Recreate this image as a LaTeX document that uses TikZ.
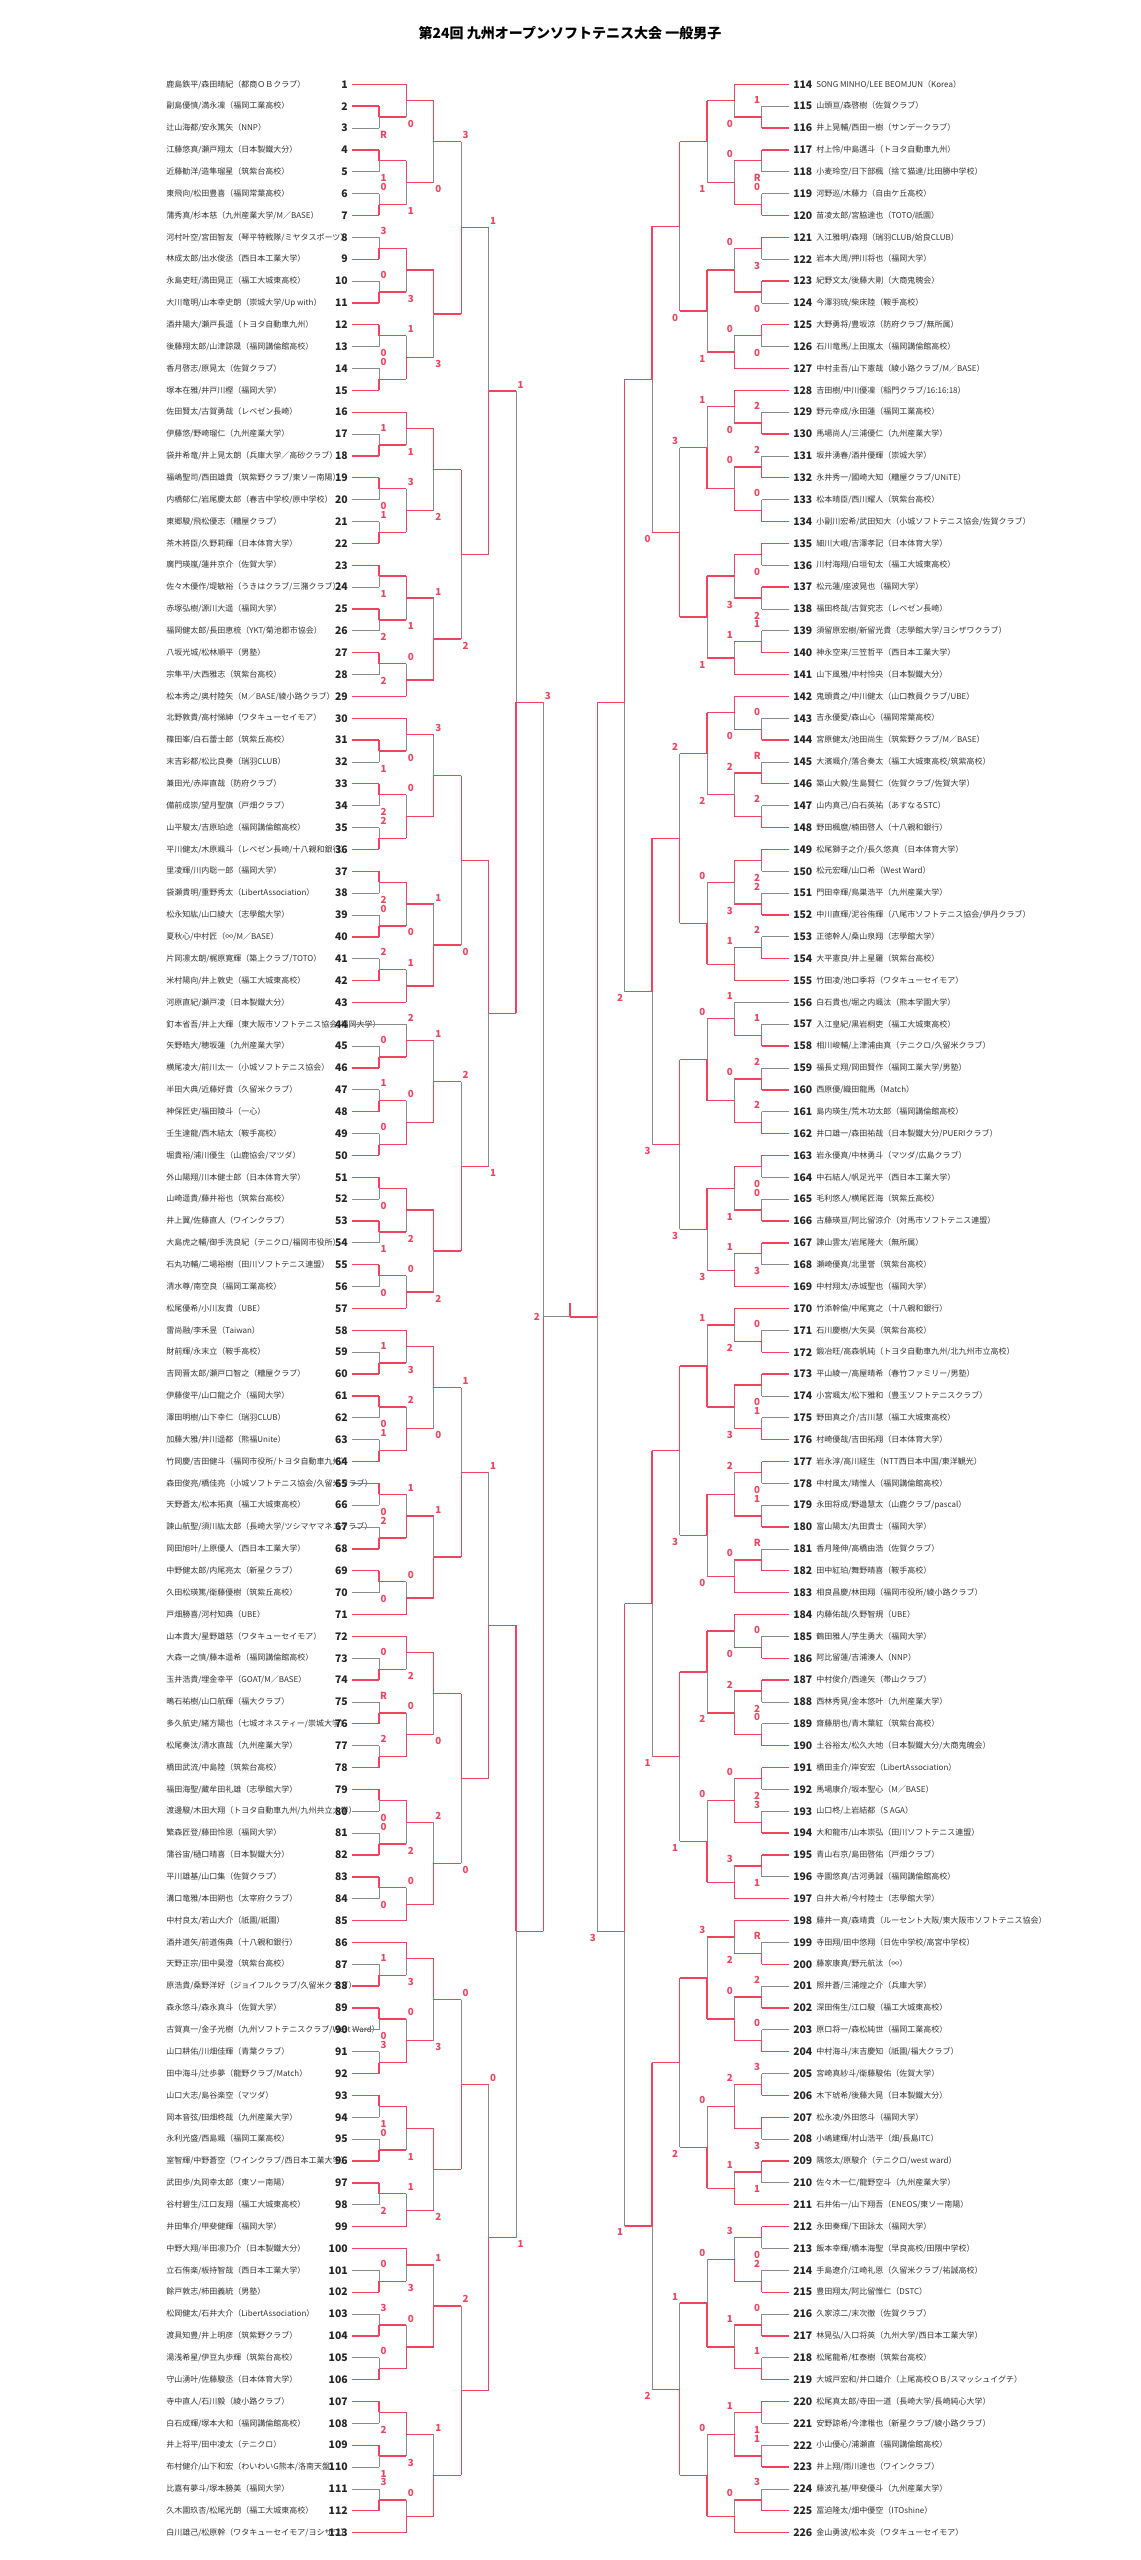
\documentclass[tikz,border=0pt]{standalone}
\usepackage{fontspec}
\setmainfont{Noto Sans CJK JP}
\usetikzlibrary{positioning}

\definecolor{winred}{HTML}{F0445E}
\definecolor{losegray}{HTML}{8A8A8A}
\definecolor{nametext}{HTML}{333333}

\tikzset{
  win/.style={draw=winred, line width=1pt},
  lose/.style={draw=losegray, line width=0.6pt},
  entryname/.style={font=\fontsize{6}{7}\selectfont, text=nametext, inner sep=0pt},
  entrynum/.style={font=\fontsize{7.8}{8}\selectfont\bfseries, text=black!85, inner sep=0pt},
  scorelab/.style={font=\fontsize{7.3}{8}\selectfont\bfseries, text=winred, inner sep=0pt},
  yfix/.code={\def\bkyfix{#1}},
}

% y positions of entries and games
\newcommand\setpos[2]{\expandafter\xdef\csname ypos-#1\endcsname{#2}}
\newcommand\getpos[1]{\csname ypos-#1\endcsname}

% left and right entries
\newcommand\lent[2]{%
  \pgfmathsetmacro\bkyy{84.3+(#1-1)*21.86}%
  \setpos{e#1}{\bkyy}\expandafter\gdef\csname kind-e#1\endcsname{E}%
  \node[entryname, anchor=west] (t#1) at (166,\bkyy) {#2};
  \node[entrynum, anchor=east] (n#1) at (348,\bkyy) {#1};
}
\newcommand\rent[2]{%
  \pgfmathsetmacro\bkyy{84.3+(#1-114)*21.86}%
  \setpos{e#1}{\bkyy}\expandafter\gdef\csname kind-e#1\endcsname{E}%
  \node[entrynum, anchor=west] (n#1) at (793,\bkyy) {#1};
  \node[entryname, anchor=west] (t#1) at (816,\bkyy) {#2};
}
\newcommand\sideL{\def\xstart{379}\def\xdir{1}\def\xline{352}}
\newcommand\sideR{\def\xstart{761.7}\def\xdir{-1}\def\xline{789}}

% game: [options] name, top, bottom, round, winner (t/b), loser's score
\newcommand\game[7][]{%
  \let\bkyfix\relax
  \tikzset{gameout/.style={win},#1}%
  \pgfmathsetmacro\bkyt{\getpos{#3}}%
  \pgfmathsetmacro\bkyb{\getpos{#4}}%
  \ifx\bkyfix\relax\pgfmathsetmacro\bkym{(\bkyt+\bkyb)/2}\else\pgfmathsetmacro\bkym{\bkyfix}\fi
  \setpos{#2}{\bkym}%
  \pgfmathsetmacro\bkxv{\xstart+\xdir*27.4*(#5-1)}%
  \pgfmathsetmacro\bkxn{\bkxv+\xdir*27.4}%
  \pgfmathsetmacro\bkxl{\bkxv+\xdir*4.5}%
  \if#6t\tikzset{tside/.style={win},bside/.style={lose}}\pgfmathsetmacro\bkyl{\bkyb+6.5}%
  \else\tikzset{tside/.style={lose},bside/.style={win}}\pgfmathsetmacro\bkyl{\bkyt-6.5}\fi
  \ifcsname kind-#3\endcsname\draw[tside] (\xline,\bkyt) -- (\bkxv,\bkyt);\fi
  \ifcsname kind-#4\endcsname\draw[bside] (\xline,\bkyb) -- (\bkxv,\bkyb);\fi
  \draw[tside] (\bkxv,\bkyt) -- (\bkxv,\bkym);
  \draw[bside] (\bkxv,\bkym) -- (\bkxv,\bkyb);
  \draw[gameout] (\bkxv,\bkym) -- (\bkxn,\bkym);
  \node[scorelab] (s#2) at (\bkxl,\bkyl) {#7};
}

\begin{document}
\begin{tikzpicture}[x=0.75pt, y=-0.75pt]
\useasboundingbox (0,0) rectangle (1140,2560);
\fill[white] (0,0) rectangle (1140,2560);

\node[font=\fontsize{10.5}{12}\selectfont\bfseries] (title) at (570,33) {第24回 九州オープンソフトテニス大会 一般男子};

% left half
\lent{1}{鹿島鉄平/森田晴紀（都商ＯＢクラブ）}
\lent{2}{副島優慎/満永凜（福岡工業高校）}
\lent{3}{辻山海都/安永篤矢（NNP）}
\lent{4}{江藤悠真/瀬戸翔太（日本製鐵大分）}
\lent{5}{近藤勧洋/造隼瑠星（筑紫台高校）}
\lent{6}{東飛向/松田豊喜（福岡常葉高校）}
\lent{7}{蒲秀真/杉本慈（九州産業大学/M／BASE）}
\lent{8}{河村叶空/宮田智友（琴平特戦隊/ミヤタスポーツ）}
\lent{9}{林成太郎/出水俊丞（西日本工業大学）}
\lent{10}{永島吏旺/満田晃正（福工大城東高校）}
\lent{11}{大川竜明/山本幸史朗（崇城大学/Up with）}
\lent{12}{酒井陽大/瀬戸長遥（トヨタ自動車九州）}
\lent{13}{後藤翔太郎/山津諒晟（福岡講倫館高校）}
\lent{14}{香月啓志/原晃太（佐賀クラブ）}
\lent{15}{塚本在雅/井戸川樫（福岡大学）}
\lent{16}{佐田賢太/古賀勇哉（レベゼン長崎）}
\lent{17}{伊藤悠/野崎瑠仁（九州産業大学）}
\lent{18}{袋井希竜/井上晃太朗（兵庫大学／高砂クラブ）}
\lent{19}{福嶋聖司/西田雄貴（筑紫野クラブ/東ソー南陽）}
\lent{20}{内橋郁仁/岩尾慶太郎（春吉中学校/原中学校）}
\lent{21}{東郷駿/飛松優志（糟屋クラブ）}
\lent{22}{茶木將臣/久野莉輝（日本体育大学）}
\lent{23}{廣門瑛嵐/蓮井京介（佐賀大学）}
\lent{24}{佐々木優作/堤敏裕（うきはクラブ/三潴クラブ）}
\lent{25}{赤塚弘樹/源川大遥（福岡大学）}
\lent{26}{福岡健太郎/長田恵梳（YKT/菊池郡市協会）}
\lent{27}{八坂光城/松林順平（男塾）}
\lent{28}{宗隼平/大西雅志（筑紫台高校）}
\lent{29}{松本秀之/奥村陸矢（M／BASE/綾小路クラブ）}
\lent{30}{北野敦貴/高村悌紳（ワタキューセイモア）}
\lent{31}{篠田峯/白石蕾士郎（筑紫丘高校）}
\lent{32}{末吉彩都/松比良奏（瑞羽CLUB）}
\lent{33}{兼田光/赤岸直哉（防府クラブ）}
\lent{34}{備前成崇/望月聖旗（戸畑クラブ）}
\lent{35}{山平駿太/吉原珀途（福岡講倫館高校）}
\lent{36}{平川健太/木原颯斗（レベゼン長崎/十八親和銀行）}
\lent{37}{里凌輝/川内聡一郎（福岡大学）}
\lent{38}{袋瀬貴明/重野秀太（LibertAssociation）}
\lent{39}{松永知紘/山口綾大（志學館大学）}
\lent{40}{夏秋心/中村匠（∞/M／BASE）}
\lent{41}{片岡凛太朗/梶原寛輝（築上クラブ/TOTO）}
\lent{42}{米村陽向/井上敦史（福工大城東高校）}
\lent{43}{河原直紀/瀬戸凌（日本製鐵大分）}
\lent{44}{釘本省吾/井上大輝（東大阪市ソフトテニス協会/福岡大学）}
\lent{45}{矢野皓大/穂坂蓮（九州産業大学）}
\lent{46}{横尾凌大/前川太一（小城ソフトテニス協会）}
\lent{47}{半田大典/近藤好貴（久留米クラブ）}
\lent{48}{神保匠史/福田陵斗（一心）}
\lent{49}{壬生達龍/西木結太（鞍手高校）}
\lent{50}{堀貴裕/浦川優生（山鹿協会/マツダ）}
\lent{51}{外山陽翔/川本健士郎（日本体育大学）}
\lent{52}{山崎遥貴/藤井裕也（筑紫台高校）}
\lent{53}{井上翼/佐藤直人（ワインクラブ）}
\lent{54}{大島虎之輔/御手洗良紀（テニクロ/福岡市役所）}
\lent{55}{石丸功輔/二場裕樹（田川ソフトテニス連盟）}
\lent{56}{清水尊/南空良（福岡工業高校）}
\lent{57}{松尾優希/小川友貴（UBE）}
\lent{58}{雷尚融/李禾昱（Taiwan）}
\lent{59}{財前輝/永末立（鞍手高校）}
\lent{60}{吉岡晋太郎/瀬戸口智之（糟屋クラブ）}
\lent{61}{伊藤俊平/山口龍之介（福岡大学）}
\lent{62}{澤田明樹/山下幸仁（瑞羽CLUB）}
\lent{63}{加藤大雅/井川遥都（熊福Unite）}
\lent{64}{竹岡慶/吉田健斗（福岡市役所/トヨタ自動車九州）}
\lent{65}{森田俊亮/橋佳亮（小城ソフトテニス協会/久留米クラブ）}
\lent{66}{天野蒼太/松本拓真（福工大城東高校）}
\lent{67}{諫山航聖/須川紘太郎（長崎大学/ツシマヤマネコクラブ）}
\lent{68}{岡田旭叶/上原優人（西日本工業大学）}
\lent{69}{中野健太郎/内尾亮太（新星クラブ）}
\lent{70}{久田松瑛篤/衛藤優樹（筑紫丘高校）}
\lent{71}{戸畑勝喜/河村知典（UBE）}
\lent{72}{山本貴大/星野雄慈（ワタキューセイモア）}
\lent{73}{大森一之慎/藤本遥希（福岡講倫館高校）}
\lent{74}{玉井浩貴/埋金幸平（GOAT/M／BASE）}
\lent{75}{鴫石祐樹/山口航輝（福大クラブ）}
\lent{76}{多久航史/緒方陽也（七城オネスティー/崇城大学）}
\lent{77}{松尾奏汰/清水直哉（九州産業大学）}
\lent{78}{橋田武流/中島陸（筑紫台高校）}
\lent{79}{福田海聖/藏牟田礼雄（志學館大学）}
\lent{80}{渡邊駿/木田大翔（トヨタ自動車九州/九州共立大学）}
\lent{81}{繁森匠登/藤田怜恩（福岡大学）}
\lent{82}{蒲谷宙/樋口晴喜（日本製鐵大分）}
\lent{83}{平川雄基/山口集（佐賀クラブ）}
\lent{84}{溝口竜雅/本田朔也（太宰府クラブ）}
\lent{85}{中村良太/若山大介（祇園/祇園）}
\lent{86}{酒井道矢/前道侑典（十八親和銀行）}
\lent{87}{天野正宗/田中昊澄（筑紫台高校）}
\lent{88}{原浩貴/桑野洋好（ジョイフルクラブ/久留米クラブ）}
\lent{89}{森永悠斗/森永真斗（佐賀大学）}
\lent{90}{古賀真一/金子光樹（九州ソフトテニスクラブ/West Ward）}
\lent{91}{山口耕佑/川畑佳輝（青葉クラブ）}
\lent{92}{田中海斗/辻歩夢（龍野クラブ/Match）}
\lent{93}{山口大志/島谷楽空（マツダ）}
\lent{94}{岡本音弦/田畑柊哉（九州産業大学）}
\lent{95}{永利光盛/西島颯（福岡工業高校）}
\lent{96}{室智輝/中野蒼空（ワインクラブ/西日本工業大学）}
\lent{97}{武田歩/丸岡幸太郎（東ソー南陽）}
\lent{98}{谷村碧生/江口友翔（福工大城東高校）}
\lent{99}{井田隼介/甲斐健輝（福岡大学）}
\lent{100}{中野大翔/半田凛乃介（日本製鐵大分）}
\lent{101}{立石侑楽/板持智哉（西日本工業大学）}
\lent{102}{餘戸敦志/柿田義統（男塾）}
\lent{103}{松岡健太/石井大介（LibertAssociation）}
\lent{104}{渡具知豊/井上明彦（筑紫野クラブ）}
\lent{105}{湯浅希星/伊豆丸歩輝（筑紫台高校）}
\lent{106}{守山湧叶/佐藤駿丞（日本体育大学）}
\lent{107}{寺中直人/石川毅（綾小路クラブ）}
\lent{108}{白石成輝/塚本大和（福岡講倫館高校）}
\lent{109}{井上将平/田中凌太（テニクロ）}
\lent{110}{布村健介/山下和宏（わいわいG熊本/洛南天盤）}
\lent{111}{比嘉有夢斗/塚本勝美（福岡大学）}
\lent{112}{久木園玖杏/松尾光朗（福工大城東高校）}
\lent{113}{白川雄己/松原幹（ワタキューセイモア/ヨシザワ）}

% right half
\rent{114}{SONG MINHO/LEE BEOMJUN（Korea）}
\rent{115}{山頭亘/森啓樹（佐賀クラブ）}
\rent{116}{井上晃輔/西田一樹（サンデークラブ）}
\rent{117}{村上怜/中島邁斗（トヨタ自動車九州）}
\rent{118}{小麦玲空/日下部楓（捨て猫達/比田勝中学校）}
\rent{119}{河野巡/木藤力（自由ケ丘高校）}
\rent{120}{苗凌太郎/宮脇達也（TOTO/祇園）}
\rent{121}{入江雅明/森翔（瑞羽CLUB/姶良CLUB）}
\rent{122}{岩本大周/押川将也（福岡大学）}
\rent{123}{紀野文太/後藤大剛（大商鬼魄会）}
\rent{124}{今澤羽琉/柴床陸（鞍手高校）}
\rent{125}{大野勇将/豊坂涼（防府クラブ/無所属）}
\rent{126}{石川竜馬/上田嵐太（福岡講倫館高校）}
\rent{127}{中村圭吾/山下憲哉（綾小路クラブ/M／BASE）}
\rent{128}{吉田樹/中川優凜（稲門クラブ/16:16:18）}
\rent{129}{野元幸成/永田蓮（福岡工業高校）}
\rent{130}{馬場尚人/三浦優仁（九州産業大学）}
\rent{131}{坂井湧春/酒井優輝（崇城大学）}
\rent{132}{永井秀一/國崎大知（糟屋クラブ/UNiTE）}
\rent{133}{松本晴臣/西川耀人（筑紫台高校）}
\rent{134}{小副川宏希/武田知大（小城ソフトテニス協会/佐賀クラブ）}
\rent{135}{細川大峨/吉澤孝記（日本体育大学）}
\rent{136}{川村海翔/白垣旬太（福工大城東高校）}
\rent{137}{松元蓮/座波晃也（福岡大学）}
\rent{138}{福田柊哉/古賀究志（レベゼン長崎）}
\rent{139}{須留原宏樹/新留光貴（志學館大学/ヨシザワクラブ）}
\rent{140}{神永空来/三笠哲平（西日本工業大学）}
\rent{141}{山下風雅/中村怜央（日本製鐵大分）}
\rent{142}{鬼頭貴之/中川健太（山口教員クラブ/UBE）}
\rent{143}{吉永優愛/森山心（福岡常葉高校）}
\rent{144}{宮原健太/池田尚生（筑紫野クラブ/M／BASE）}
\rent{145}{大濱颯介/落合奏太（福工大城東高校/筑紫高校）}
\rent{146}{築山大毅/生島賢仁（佐賀クラブ/佐賀大学）}
\rent{147}{山内真己/白石英祐（あすなるSTC）}
\rent{148}{野田楓麿/楠田啓人（十八親和銀行）}
\rent{149}{松尾獅子之介/長久悠真（日本体育大学）}
\rent{150}{松元宏暉/山口希（West Ward）}
\rent{151}{門田幸輝/鳥巣浩平（九州産業大学）}
\rent{152}{中川直輝/泥谷侑輝（八尾市ソフトテニス協会/伊丹クラブ）}
\rent{153}{正徳幹人/桑山泉翔（志學館大学）}
\rent{154}{大平憲良/井上星羅（筑紫台高校）}
\rent{155}{竹田凌/池口季将（ワタキューセイモア）}
\rent{156}{白石貴也/堀之内颯汰（熊本学園大学）}
\rent{157}{入江皇紀/黒岩桐吏（福工大城東高校）}
\rent{158}{相川峻輔/上津浦由真（テニクロ/久留米クラブ）}
\rent{159}{福長丈翔/岡田賢作（福岡工業大学/男塾）}
\rent{160}{西原優/織田龍馬（Match）}
\rent{161}{島内瑛生/荒木功太郎（福岡講倫館高校）}
\rent{162}{井口雄一/森田祐哉（日本製鐵大分/PUERIクラブ）}
\rent{163}{岩永優真/中林勇斗（マツダ/広島クラブ）}
\rent{164}{中石結人/帆足光平（西日本工業大学）}
\rent{165}{毛利悠人/横尾匠海（筑紫丘高校）}
\rent{166}{古藤瑛亘/阿比留涼介（対馬市ソフトテニス連盟）}
\rent{167}{諫山雲太/岩尾隆大（無所属）}
\rent{168}{瀬崎優真/北里誉（筑紫台高校）}
\rent{169}{中村翔太/赤城聖也（福岡大学）}
\rent{170}{竹添幹倫/中尾寛之（十八親和銀行）}
\rent{171}{石川慶樹/大矢昊（筑紫台高校）}
\rent{172}{鍛冶旺/高森帆純（トヨタ自動車九州/北九州市立高校）}
\rent{173}{平山綾一/高屋晴希（春竹ファミリー/男塾）}
\rent{174}{小宮颯太/松下雅和（豊玉ソフトテニスクラブ）}
\rent{175}{野田真之介/古川慧（福工大城東高校）}
\rent{176}{村崎優哉/吉田拓翔（日本体育大学）}
\rent{177}{岩永淳/高川経生（NTT西日本中国/東洋観光）}
\rent{178}{中村風太/靖惟人（福岡講倫館高校）}
\rent{179}{永田将成/野邉慧太（山鹿クラブ/pascal）}
\rent{180}{富山陽太/丸田貴士（福岡大学）}
\rent{181}{香月隆伸/高橋由浩（佐賀クラブ）}
\rent{182}{田中紅珀/舞野晴喜（鞍手高校）}
\rent{183}{相良昌慶/林田翔（福岡市役所/綾小路クラブ）}
\rent{184}{内藤佑哉/久野智規（UBE）}
\rent{185}{鶴田雅人/芋生勇大（福岡大学）}
\rent{186}{阿比留蓮/吉浦湊人（NNP）}
\rent{187}{中村俊介/西達矢（帯山クラブ）}
\rent{188}{西林秀晃/金本悠叶（九州産業大学）}
\rent{189}{齋藤朋也/青木葉紅（筑紫台高校）}
\rent{190}{土谷裕太/松久大地（日本製鐵大分/大商鬼魄会）}
\rent{191}{橋田圭介/岸安宏（LibertAssociation）}
\rent{192}{馬場康介/坂本聖心（M／BASE）}
\rent{193}{山口柊/上岩結都（S AGA）}
\rent{194}{大和龍市/山本崇弘（田川ソフトテニス連盟）}
\rent{195}{青山右京/島田啓佑（戸畑クラブ）}
\rent{196}{寺園悠真/古河勇誠（福岡講倫館高校）}
\rent{197}{白井大希/今村陸士（志學館大学）}
\rent{198}{藤井一真/森靖貴（ルーセント大阪/東大阪市ソフトテニス協会）}
\rent{199}{寺田翔/田中悠翔（日佐中学校/高宮中学校）}
\rent{200}{藤家康真/野元航汰（∞）}
\rent{201}{照井蒼/三浦煌之介（兵庫大学）}
\rent{202}{深田侑生/江口駿（福工大城東高校）}
\rent{203}{原口将一/森松純世（福岡工業高校）}
\rent{204}{中村海斗/末吉慶知（祇園/福大クラブ）}
\rent{205}{宮崎真紗斗/衛藤駿佑（佐賀大学）}
\rent{206}{木下琥希/後藤大晃（日本製鐵大分）}
\rent{207}{松永凌/外田悠斗（福岡大学）}
\rent{208}{小嶋建輝/村山浩平（畑/長島ITC）}
\rent{209}{隅悠太/原駿介（テニクロ/west ward）}
\rent{210}{佐々木一仁/龍野空斗（九州産業大学）}
\rent{211}{石井佑一/山下翔吾（ENEOS/東ソー南陽）}
\rent{212}{永田奏輝/下田詠太（福岡大学）}
\rent{213}{飯本幸輝/橋本海聖（早良高校/田隈中学校）}
\rent{214}{手島遼介/江崎礼恩（久留米クラブ/祐誠高校）}
\rent{215}{豊田翔太/阿比留惟仁（DSTC）}
\rent{216}{久家涼二/末次徹（佐賀クラブ）}
\rent{217}{林晃弘/入口将英（九州大学/西日本工業大学）}
\rent{218}{松尾龍希/杠泰樹（筑紫台高校）}
\rent{219}{大城戸宏和/井口雄介（上尾高校ＯＢ/スマッシュイグチ）}
\rent{220}{松尾真太郎/寺田一道（長崎大学/長崎純心大学）}
\rent{221}{安野諒希/今津稚也（新星クラブ/綾小路クラブ）}
\rent{222}{小山優心/浦瀬直（福岡講倫館高校）}
\rent{223}{井上翔/雨川達也（ワインクラブ）}
\rent{224}{藤波孔基/甲斐優斗（九州産業大学）}
\rent{225}{冨迫隆太/畑中優空（ITOshine）}
\rent{226}{金山勇波/松本炎（ワタキューセイモア）}

% left bracket
\sideL
\game{m2-3}{e2}{e3}{1}{t}{R}
\game{m1-3}{e1}{m2-3}{2}{t}{0}
\game{m4-5}{e4}{e5}{1}{t}{1}
\game{m6-7}{e6}{e7}{1}{b}{0}
\game{m4-7}{m4-5}{m6-7}{2}{t}{1}
\game{m1-7}{m1-3}{m4-7}{3}{t}{0}
\game{m8-9}{e8}{e9}{1}{b}{3}
\game{m10-11}{e10}{e11}{1}{b}{0}
\game{m8-11}{m8-9}{m10-11}{2}{t}{3}
\game{m12-13}{e12}{e13}{1}{t}{0}
\game{m14-15}{e14}{e15}{1}{b}{0}
\game{m12-15}{m12-13}{m14-15}{2}{b}{1}
\game{m8-15}{m8-11}{m12-15}{3}{t}{3}
\game{m1-15}{m1-7}{m8-15}{4}{b}{3}
\game{m17-18}{e17}{e18}{1}{b}{1}
\game{m16-18}{e16}{m17-18}{2}{t}{1}
\game{m19-20}{e19}{e20}{1}{t}{0}
\game{m21-22}{e21}{e22}{1}{b}{1}
\game{m19-22}{m19-20}{m21-22}{2}{b}{3}
\game{m16-22}{m16-18}{m19-22}{3}{t}{2}
\game{m23-24}{e23}{e24}{1}{t}{1}
\game{m25-26}{e25}{e26}{1}{t}{2}
\game{m23-26}{m23-24}{m25-26}{2}{t}{1}
\game{m27-28}{e27}{e28}{1}{t}{2}
\game{m27-29}{m27-28}{e29}{2}{b}{0}
\game{m23-29}{m23-26}{m27-29}{3}{b}{1}
\game{m16-29}{m16-22}{m23-29}{4}{t}{2}
\game{m1-29}{m1-15}{m16-29}{5}{b}{1}
\game{m31-32}{e31}{e32}{1}{t}{1}
\game{m30-32}{e30}{m31-32}{2}{t}{0}
\game{m33-34}{e33}{e34}{1}{t}{2}
\game{m35-36}{e35}{e36}{1}{b}{2}
\game{m33-36}{m33-34}{m35-36}{2}{b}{0}
\game{m30-36}{m30-32}{m33-36}{3}{b}{3}
\game{m37-38}{e37}{e38}{1}{t}{2}
\game{m39-40}{e39}{e40}{1}{b}{0}
\game{m37-40}{m37-38}{m39-40}{2}{t}{0}
\game{m41-42}{e41}{e42}{1}{b}{2}
\game{m41-43}{m41-42}{e43}{2}{b}{1}
\game{m37-43}{m37-40}{m41-43}{3}{b}{1}
\game{m30-43}{m30-36}{m37-43}{4}{t}{0}
\game{m45-46}{e45}{e46}{1}{b}{0}
\game{m44-46}{e44}{m45-46}{2}{b}{2}
\game{m47-48}{e47}{e48}{1}{b}{1}
\game{m49-50}{e49}{e50}{1}{b}{0}
\game{m47-50}{m47-48}{m49-50}{2}{b}{0}
\game{m44-50}{m44-46}{m47-50}{3}{b}{1}
\game{m51-52}{e51}{e52}{1}{t}{0}
\game{m53-54}{e53}{e54}{1}{t}{1}
\game{m51-54}{m51-52}{m53-54}{2}{t}{2}
\game{m55-56}{e55}{e56}{1}{t}{0}
\game{m55-57}{m55-56}{e57}{2}{b}{0}
\game{m51-57}{m51-54}{m55-57}{3}{t}{2}
\game{m44-57}{m44-50}{m51-57}{4}{b}{2}
\game{m30-57}{m30-43}{m44-57}{5}{t}{1}
\game{m1-57}{m1-29}{m30-57}{6}{b}{1}
\game{m59-60}{e59}{e60}{1}{b}{1}
\game{m58-60}{e58}{m59-60}{2}{t}{3}
\game{m61-62}{e61}{e62}{1}{t}{0}
\game{m63-64}{e63}{e64}{1}{b}{1}
\game{m61-64}{m61-62}{m63-64}{2}{b}{2}
\game{m58-64}{m58-60}{m61-64}{3}{t}{0}
\game{m65-66}{e65}{e66}{1}{t}{0}
\game{m67-68}{e67}{e68}{1}{b}{2}
\game{m65-68}{m65-66}{m67-68}{2}{b}{1}
\game{m69-70}{e69}{e70}{1}{t}{0}
\game{m69-71}{m69-70}{e71}{2}{b}{0}
\game{m65-71}{m65-68}{m69-71}{3}{b}{1}
\game{m58-71}{m58-64}{m65-71}{4}{b}{1}
\game{m73-74}{e73}{e74}{1}{b}{0}
\game{m72-74}{e72}{m73-74}{2}{t}{2}
\game{m75-76}{e75}{e76}{1}{b}{R}
\game{m77-78}{e77}{e78}{1}{b}{2}
\game{m75-78}{m75-76}{m77-78}{2}{b}{0}
\game{m72-78}{m72-74}{m75-78}{3}{t}{0}
\game{m79-80}{e79}{e80}{1}{t}{0}
\game{m81-82}{e81}{e82}{1}{b}{0}
\game{m79-82}{m79-80}{m81-82}{2}{t}{2}
\game{m83-84}{e83}{e84}{1}{t}{0}
\game{m83-85}{m83-84}{e85}{2}{b}{0}
\game{m79-85}{m79-82}{m83-85}{3}{b}{2}
\game{m72-85}{m72-78}{m79-85}{4}{t}{0}
\game{m58-85}{m58-71}{m72-85}{5}{b}{1}
\game{m87-88}{e87}{e88}{1}{b}{1}
\game{m86-88}{e86}{m87-88}{2}{t}{3}
\game{m89-90}{e89}{e90}{1}{t}{0}
\game{m91-92}{e91}{e92}{1}{b}{3}
\game{m89-92}{m89-90}{m91-92}{2}{b}{0}
\game{m86-92}{m86-88}{m89-92}{3}{t}{3}
\game{m93-94}{e93}{e94}{1}{t}{1}
\game{m95-96}{e95}{e96}{1}{b}{0}
\game{m93-96}{m93-94}{m95-96}{2}{t}{1}
\game{m97-98}{e97}{e98}{1}{t}{2}
\game{m97-99}{m97-98}{e99}{2}{b}{1}
\game{m93-99}{m93-96}{m97-99}{3}{t}{2}
\game{m86-99}{m86-92}{m93-99}{4}{b}{0}
\game{m101-102}{e101}{e102}{1}{b}{0}
\game{m100-102}{e100}{m101-102}{2}{t}{3}
\game{m103-104}{e103}{e104}{1}{b}{3}
\game{m105-106}{e105}{e106}{1}{b}{0}
\game{m103-106}{m103-104}{m105-106}{2}{b}{0}
\game{m100-106}{m100-102}{m103-106}{3}{b}{1}
\game{m107-108}{e107}{e108}{1}{t}{2}
\game{m109-110}{e109}{e110}{1}{t}{1}
\game{m107-110}{m107-108}{m109-110}{2}{t}{3}
\game{m111-112}{e111}{e112}{1}{b}{3}
\game{m111-113}{m111-112}{e113}{2}{b}{0}
\game{m107-113}{m107-110}{m111-113}{3}{b}{1}
\game{m100-113}{m100-106}{m107-113}{4}{b}{2}
\game{m86-113}{m86-99}{m100-113}{5}{b}{0}
\game{m58-113}{m58-85}{m86-113}{6}{t}{1}
\game[gameout/.style={lose}]{m1-113}{m1-57}{m58-113}{7}{b}{3}

% right bracket
\sideR
\game{m115-116}{e115}{e116}{1}{b}{1}
\game{m114-116}{e114}{m115-116}{2}{t}{0}
\game{m117-118}{e117}{e118}{1}{t}{R}
\game{m119-120}{e119}{e120}{1}{b}{0}
\game{m117-120}{m117-118}{m119-120}{2}{b}{0}
\game{m114-120}{m114-116}{m117-120}{3}{t}{1}
\game{m121-122}{e121}{e122}{1}{t}{3}
\game{m123-124}{e123}{e124}{1}{t}{0}
\game{m121-124}{m121-122}{m123-124}{2}{b}{0}
\game{m125-126}{e125}{e126}{1}{t}{0}
\game{m125-127}{m125-126}{e127}{2}{b}{0}
\game{m121-127}{m121-124}{m125-127}{3}{t}{1}
\game{m114-127}{m114-120}{m121-127}{4}{t}{0}
\game{m129-130}{e129}{e130}{1}{b}{2}
\game{m128-130}{e128}{m129-130}{2}{t}{0}
\game{m131-132}{e131}{e132}{1}{b}{2}
\game{m133-134}{e133}{e134}{1}{b}{0}
\game{m131-134}{m131-132}{m133-134}{2}{b}{0}
\game{m128-134}{m128-130}{m131-134}{3}{b}{1}
\game{m135-136}{e135}{e136}{1}{t}{0}
\game{m137-138}{e137}{e138}{1}{t}{2}
\game{m135-138}{m135-136}{m137-138}{2}{t}{3}
\game{m139-140}{e139}{e140}{1}{b}{1}
\game{m139-141}{m139-140}{e141}{2}{b}{1}
\game{m135-141}{m135-138}{m139-141}{3}{t}{1}
\game{m128-141}{m128-134}{m135-141}{4}{b}{3}
\game{m114-141}{m114-127}{m128-141}{5}{t}{0}
\game{m143-144}{e143}{e144}{1}{b}{0}
\game{m142-144}{e142}{m143-144}{2}{t}{0}
\game{m145-146}{e145}{e146}{1}{b}{R}
\game{m147-148}{e147}{e148}{1}{b}{2}
\game{m145-148}{m145-146}{m147-148}{2}{b}{2}
\game{m142-148}{m142-144}{m145-148}{3}{t}{2}
\game{m149-150}{e149}{e150}{1}{t}{2}
\game{m151-152}{e151}{e152}{1}{b}{2}
\game{m149-152}{m149-150}{m151-152}{2}{t}{3}
\game{m153-154}{e153}{e154}{1}{b}{2}
\game{m153-155}{m153-154}{e155}{2}{b}{1}
\game{m149-155}{m149-152}{m153-155}{3}{b}{0}
\game{m142-155}{m142-148}{m149-155}{4}{b}{2}
\game{m157-158}{e157}{e158}{1}{b}{1}
\game{m156-158}{e156}{m157-158}{2}{b}{1}
\game{m159-160}{e159}{e160}{1}{b}{2}
\game{m161-162}{e161}{e162}{1}{b}{2}
\game{m159-162}{m159-160}{m161-162}{2}{b}{0}
\game{m156-162}{m156-158}{m159-162}{3}{b}{0}
\game{m163-164}{e163}{e164}{1}{t}{0}
\game{m165-166}{e165}{e166}{1}{b}{0}
\game{m163-166}{m163-164}{m165-166}{2}{t}{1}
\game{m167-168}{e167}{e168}{1}{t}{3}
\game{m167-169}{m167-168}{e169}{2}{b}{1}
\game{m163-169}{m163-166}{m167-169}{3}{t}{3}
\game{m156-169}{m156-162}{m163-169}{4}{t}{3}
\game{m142-169}{m142-155}{m156-169}{5}{t}{3}
\game[yfix=\getpos{m1-57}]{m114-169}{m114-141}{m142-169}{6}{t}{2}
\game{m171-172}{e171}{e172}{1}{b}{0}
\game{m170-172}{e170}{m171-172}{2}{t}{2}
\game{m173-174}{e173}{e174}{1}{t}{0}
\game{m175-176}{e175}{e176}{1}{b}{1}
\game{m173-176}{m173-174}{m175-176}{2}{t}{3}
\game{m170-176}{m170-172}{m173-176}{3}{b}{1}
\game{m177-178}{e177}{e178}{1}{t}{0}
\game{m179-180}{e179}{e180}{1}{b}{1}
\game{m177-180}{m177-178}{m179-180}{2}{b}{2}
\game{m181-182}{e181}{e182}{1}{b}{R}
\game{m181-183}{m181-182}{e183}{2}{b}{0}
\game{m177-183}{m177-180}{m181-183}{3}{t}{0}
\game{m170-183}{m170-176}{m177-183}{4}{t}{3}
\game{m185-186}{e185}{e186}{1}{b}{0}
\game{m184-186}{e184}{m185-186}{2}{t}{0}
\game{m187-188}{e187}{e188}{1}{t}{2}
\game{m189-190}{e189}{e190}{1}{b}{0}
\game{m187-190}{m187-188}{m189-190}{2}{b}{2}
\game{m184-190}{m184-186}{m187-190}{3}{t}{2}
\game{m191-192}{e191}{e192}{1}{t}{2}
\game{m193-194}{e193}{e194}{1}{b}{3}
\game{m191-194}{m191-192}{m193-194}{2}{b}{0}
\game{m195-196}{e195}{e196}{1}{t}{1}
\game{m195-197}{m195-196}{e197}{2}{b}{3}
\game{m191-197}{m191-194}{m195-197}{3}{b}{0}
\game{m184-197}{m184-190}{m191-197}{4}{t}{1}
\game{m170-197}{m170-183}{m184-197}{5}{t}{1}
\game{m199-200}{e199}{e200}{1}{b}{R}
\game{m198-200}{e198}{m199-200}{2}{t}{2}
\game{m201-202}{e201}{e202}{1}{b}{2}
\game{m203-204}{e203}{e204}{1}{b}{0}
\game{m201-204}{m201-202}{m203-204}{2}{b}{0}
\game{m198-204}{m198-200}{m201-204}{3}{b}{3}
\game{m205-206}{e205}{e206}{1}{b}{3}
\game{m207-208}{e207}{e208}{1}{t}{3}
\game{m205-208}{m205-206}{m207-208}{2}{b}{2}
\game{m209-210}{e209}{e210}{1}{t}{1}
\game{m209-211}{m209-210}{e211}{2}{b}{1}
\game{m205-211}{m205-208}{m209-211}{3}{b}{0}
\game{m198-211}{m198-204}{m205-211}{4}{t}{2}
\game{m212-213}{e212}{e213}{1}{t}{0}
\game{m214-215}{e214}{e215}{1}{b}{2}
\game{m212-215}{m212-213}{m214-215}{2}{b}{3}
\game{m216-217}{e216}{e217}{1}{b}{0}
\game{m218-219}{e218}{e219}{1}{b}{1}
\game{m216-219}{m216-217}{m218-219}{2}{b}{1}
\game{m212-219}{m212-215}{m216-219}{3}{b}{0}
\game{m220-221}{e220}{e221}{1}{t}{1}
\game{m222-223}{e222}{e223}{1}{b}{1}
\game{m220-223}{m220-221}{m222-223}{2}{b}{1}
\game{m224-225}{e224}{e225}{1}{b}{3}
\game{m224-226}{m224-225}{e226}{2}{b}{0}
\game{m220-226}{m220-223}{m224-226}{3}{b}{0}
\game{m212-226}{m212-219}{m220-226}{4}{b}{1}
\game{m198-226}{m198-211}{m212-226}{5}{t}{2}
\game[yfix=\getpos{m58-113}]{m170-226}{m170-197}{m198-226}{6}{t}{1}
\game{m114-226}{m114-169}{m170-226}{7}{t}{3}

% final
\draw[win, line width=1.6pt] (570,{\getpos{m1-113}}) -- (570,{\getpos{m1-113}-14});
\node[scorelab] (sfinal) at (536.8,{\getpos{m1-113}}) {2};
\end{tikzpicture}
\end{document}
